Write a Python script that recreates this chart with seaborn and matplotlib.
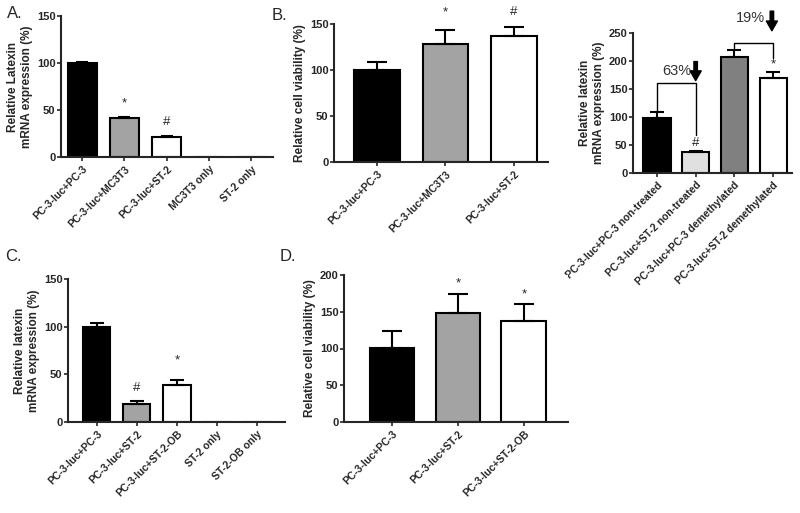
import numpy as np
import pandas as pd
import matplotlib.pyplot as plt
import seaborn as sns

sns.set_style("ticks")
plt.rcParams['font.family'] = ['Liberation Sans', 'DejaVu Sans']
plt.rcParams['font.weight'] = 'bold'
plt.rcParams['axes.labelweight'] = 'bold'

# Panel A data
a_groups = ["PC-3-luc+PC-3", "PC-3-luc+MC3T3", "PC-3-luc+ST-2", "MC3T3 only", "ST-2 only"]
a_values = [100, 42, 21, 0, 0]
a_errors = [1, 1, 1.5, 0, 0]
a_colors = ["black", "#a3a3a3", "white", "white", "white"]
a_marks = ["", "*", "#", "", ""]
a_mark_y = [0, 57, 37, 0, 0]

# Panel B data
b_groups = ["PC-3-luc+PC-3", "PC-3-luc+MC3T3", "PC-3-luc+ST-2"]
b_values = [100, 128, 137]
b_errors = [9, 15, 10]
b_colors = ["black", "#a3a3a3", "white"]
b_marks = ["", "*", "#"]
b_mark_y = [0, 163, 163]

# Right-hand panel (demethylation)
e_groups = ["PC-3-luc+PC-3 non-treated", "PC-3-luc+ST-2 non-treated",
            "PC-3-luc+PC-3 demethylated", "PC-3-luc+ST-2 demethylated"]
e_values = [98, 37, 207, 169]
e_errors = [11, 2, 12, 12]
e_colors = ["black", "#e0e0e0", "#808080", "white"]
e_marks = ["", "#", "", "*"]
e_mark_y = [0, 54, 0, 194]

# Panel C data
c_groups = ["PC-3-luc+PC-3", "PC-3-luc+ST-2", "PC-3-luc+ST-2-OB", "ST-2 only", "ST-2-OB only"]
c_values = [100, 19, 39, 0, 0]
c_errors = [4, 3, 5, 0, 0]
c_colors = ["black", "#a3a3a3", "white", "white", "white"]
c_marks = ["", "#", "*", "", ""]
c_mark_y = [0, 36, 65, 0, 0]

# Panel D data
d_groups = ["PC-3-luc+PC-3", "PC-3-luc+ST-2", "PC-3-luc+ST-2-OB"]
d_values = [101, 148, 138]
d_errors = [23, 26, 22]
d_colors = ["black", "#a3a3a3", "white"]
d_marks = ["", "*", "*"]
d_mark_y = [0, 189, 173]

W, H = 800, 513
fig = plt.figure(figsize=(W / 100, H / 100), dpi=100)


def px_axes(x0, x1, y0, y1):
    # pixel box (top-left origin) -> figure fraction axes
    return fig.add_axes([x0 / W, 1 - y1 / H, (x1 - x0) / W, (y1 - y0) / H])


def draw_bars(ax, groups, values, errors, colors, marks, mark_y,
              width, capsize, ymax, ystep, xlim, ylabel):
    df = pd.DataFrame({"group": groups, "value": values})
    sns.barplot(data=df, x="group", y="value", hue="group",
                palette=dict(zip(groups, colors)), legend=False,
                saturation=1, width=width, edgecolor="black",
                linewidth=1.5, errorbar=None, ax=ax)
    pos = np.arange(len(groups))
    err = np.array(errors, dtype=float)
    keep = err > 0
    ax.errorbar(pos[keep], np.array(values)[keep],
                yerr=[np.zeros(keep.sum()), err[keep]],
                fmt="none", ecolor="black", elinewidth=1.5,
                capsize=capsize, capthick=1.5, zorder=1)
    for i, m in enumerate(marks):
        if m:
            ax.text(i, mark_y[i], m, ha="center", va="center",
                    fontsize=9.5, fontweight="normal", clip_on=False)
    ax.set_ylim(0, ymax)
    ax.set_yticks(np.arange(0, ymax + 1, ystep))
    ax.set_xlim(*xlim)
    ax.set_xticks(pos)
    ax.set_xticklabels(groups, rotation=45, ha="right",
                       rotation_mode="anchor", fontsize=7.5, fontweight="bold")
    ax.tick_params(axis="y", labelsize=8, length=3, width=1.2, pad=1)
    ax.tick_params(axis="x", length=3, width=1.2, pad=2)
    ax.set_xlabel("")
    ax.set_ylabel(ylabel, fontsize=8.5, fontweight="bold", labelpad=3)
    for s in ["left", "bottom"]:
        ax.spines[s].set_linewidth(1.5)
    sns.despine(ax=ax)


axA = px_axes(61, 273, 16, 157)
draw_bars(axA, a_groups, a_values, a_errors, a_colors, a_marks, a_mark_y,
          0.69, 4, 150, 50, (-0.5, 4.52),
          "Relative Latexin\nmRNA expression (%)")

axB = px_axes(334, 548, 24, 162)
draw_bars(axB, b_groups, b_values, b_errors, b_colors, b_marks, b_mark_y,
          0.67, 7.5, 150, 50, (-0.63, 2.5),
          "Relative cell viability (%)")

axE = px_axes(633, 792, 33, 173)
draw_bars(axE, e_groups, e_values, e_errors, e_colors, e_marks, e_mark_y,
          0.7, 5, 250, 50, (-0.62, 3.49),
          "Relative latexin\nmRNA expression (%)")

axC = px_axes(68, 285, 279, 422)
draw_bars(axC, c_groups, c_values, c_errors, c_colors, c_marks, c_mark_y,
          0.68, 5, 150, 50, (-0.72, 4.7),
          "Relative latexin\nmRNA expression (%)")

axD = px_axes(344, 568, 275, 422)
draw_bars(axD, d_groups, d_values, d_errors, d_colors, d_marks, d_mark_y,
          0.68, 7.5, 200, 50, (-0.73, 2.67),
          "Relative cell viability (%)")

# brackets with percentage drop on the right-hand panel
axE.plot([0, 0, 1, 1], [110, 161, 161, 68], color="black", lw=1, clip_on=False)
axE.plot([2, 2, 3, 3], [223, 232, 232, 205], color="black", lw=1, clip_on=False)
axE.text(0.5, 182, "63%", ha="center", va="center", fontsize=10.5,
         fontweight="normal", color="#333333")
axE.text(2.42, 277, "19%", ha="center", va="center", fontsize=10.5,
         fontweight="normal", color="#333333", clip_on=False)
arrow = dict(facecolor="black", edgecolor="black", width=2.5, headwidth=8,
             headlength=7, shrink=0)
axE.annotate("", xy=(1.0, 165), xytext=(1.0, 199), arrowprops=arrow,
             annotation_clip=False)
axE.annotate("", xy=(2.97, 254), xytext=(2.97, 289), arrowprops=arrow,
             annotation_clip=False)

# panel letters
for lab, x, y in [("A.", 7, 21), ("B.", 272, 23), ("C.", 5, 264), ("D.", 280, 264)]:
    fig.text(x / W, 1 - y / H, lab, fontsize=12, fontweight="normal",
             ha="left", va="bottom")

fig.savefig("out.png", dpi=100)
